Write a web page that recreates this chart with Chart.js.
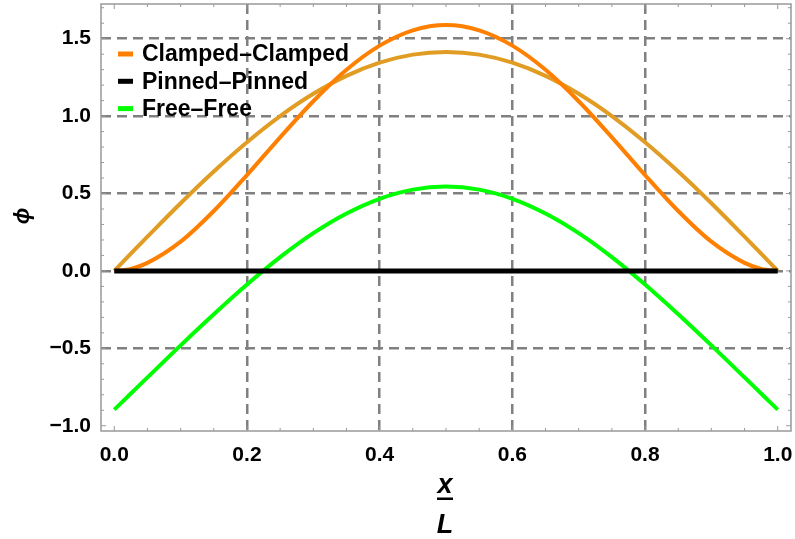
<!DOCTYPE html>
<html>
<head>
<meta charset="utf-8">
<script src="https://cdn.jsdelivr.net/npm/chart.js@4/dist/chart.umd.min.js"></script>
<style>
  html, body { margin: 0; padding: 0; background: #fff; }
  #wrap { width: 795px; height: 539px; }
</style>
</head>
<body>
<div id="wrap"><canvas id="modeChart" width="795" height="539"></canvas></div>
<script>
// x / L positions
const xs = [0, 0.025, 0.05, 0.1, 0.15, 0.2, 0.25, 0.3, 0.35, 0.4, 0.45, 0.5,
            0.55, 0.6, 0.65, 0.7, 0.75, 0.8, 0.85, 0.9, 0.95, 0.975, 1];

// mode shapes phi
const clampedClamped = [0, 0.013, 0.052, 0.189, 0.387, 0.619, 0.863, 1.096, 1.299, 1.455, 1.554, 1.588,
                        1.554, 1.455, 1.299, 1.096, 0.863, 0.619, 0.387, 0.189, 0.052, 0.013, 0];
const pinnedPinned = [0, 0, 0, 0, 0, 0, 0, 0, 0, 0, 0, 0,
                      0, 0, 0, 0, 0, 0, 0, 0, 0, 0, 0];
const freeFree = [-0.896, -0.792, -0.688, -0.481, -0.280, -0.088, 0.089, 0.244, 0.371, 0.466, 0.525, 0.545,
                  0.525, 0.466, 0.371, 0.244, 0.089, -0.088, -0.280, -0.481, -0.688, -0.792, -0.896];
// gold curve (no legend entry)
const sineShape = [0, 0.111, 0.221, 0.437, 0.642, 0.831, 1.000, 1.144, 1.260, 1.345, 1.397, 1.414,
                   1.397, 1.345, 1.260, 1.144, 1.000, 0.831, 0.642, 0.437, 0.221, 0.111, 0];

const xTicks = [0, 0.2, 0.4, 0.6, 0.8, 1.0];
const yTicks = [-1.0, -0.5, 0, 0.5, 1.0, 1.5];
const xGridAt = [0.2, 0.4, 0.6, 0.8];
const yGridAt = [-0.5, 0, 0.5, 1.0, 1.5];

const FONT = '"Liberation Sans", Arial, sans-serif';
const GRID = '#808080';
const FRAME = '#999999';

function pts(ys) {
    return xs.map((x, i) => ({ x: x, y: ys[i] }));
}

function fmt(v) {
    return v.toFixed(1).replace('-', '\u2212');
}

// frame, minor ticks, legend and axis titles
const decorations = {
    id: 'decorations',
    afterDraw(chart) {
        const ctx = chart.ctx;
        const a = chart.chartArea;
        const sx = chart.scales.x, sy = chart.scales.y;
        ctx.save();

        ctx.strokeStyle = FRAME;
        ctx.lineWidth = 1.5;
        ctx.strokeRect(a.left, a.top, a.right - a.left, a.bottom - a.top);

        ctx.lineWidth = 1;
        for (let i = 0; i <= 20; i++) {
            const v = i * 0.05;
            const len = (i % 4 === 0) ? 5 : 3;
            const px = sx.getPixelForValue(v);
            ctx.beginPath();
            ctx.moveTo(px, a.bottom); ctx.lineTo(px, a.bottom - len);
            ctx.moveTo(px, a.top); ctx.lineTo(px, a.top + len);
            ctx.stroke();
        }
        for (let i = -10; i <= 17; i++) {
            const v = i * 0.1;
            const len = (i % 5 === 0) ? 5 : 3;
            const py = sy.getPixelForValue(v);
            ctx.beginPath();
            ctx.moveTo(a.left, py); ctx.lineTo(a.left + len, py);
            ctx.moveTo(a.right, py); ctx.lineTo(a.right - len, py);
            ctx.stroke();
        }

        // legend
        const items = chart.data.datasets.filter(d => d.inLegend);
        ctx.font = 'bold 23px ' + FONT;
        ctx.textBaseline = 'middle';
        ctx.textAlign = 'left';
        items.forEach((d, i) => {
            const y = 54 + i * 27.3;
            ctx.fillStyle = d.borderColor;
            ctx.fillRect(118, y - 2.5, 15, 5);
            ctx.fillStyle = '#000';
            ctx.fillText(d.label, 142, y + 1);
        });

        // y title
        ctx.save();
        ctx.translate(23, 216);
        ctx.rotate(-Math.PI / 2);
        ctx.font = 'italic bold 22px ' + FONT;
        ctx.textAlign = 'center';
        ctx.textBaseline = 'middle';
        ctx.fillText('\u03d5', 0, 0);
        ctx.restore();

        // x title as fraction x / L
        ctx.font = 'italic bold 27px ' + FONT;
        ctx.textAlign = 'center';
        ctx.textBaseline = 'alphabetic';
        ctx.fillStyle = '#000';
        ctx.fillText('x', 445, 493);
        ctx.fillRect(437, 497.5, 16, 2.5);
        ctx.fillText('L', 445, 533);

        ctx.restore();
    }
};

new Chart(document.getElementById('modeChart'), {
    type: 'line',
    data: {
        datasets: [
            {
                label: 'Clamped\u2013Clamped',
                data: pts(clampedClamped),
                borderColor: '#ff8000',
                borderWidth: 4,
                inLegend: true,
                order: 2
            },
            {
                label: 'Pinned\u2013Pinned',
                data: pts(pinnedPinned),
                borderColor: '#000000',
                borderWidth: 5,
                inLegend: true,
                order: 0
            },
            {
                label: 'Free\u2013Free',
                data: pts(freeFree),
                borderColor: '#00ff00',
                borderWidth: 4,
                inLegend: true,
                order: 1
            },
            {
                label: 'sine',
                data: pts(sineShape),
                borderColor: '#e19c24',
                borderWidth: 4,
                inLegend: false,
                order: 3
            }
        ]
    },
    options: {
        responsive: false,
        animation: false,
        devicePixelRatio: 1,
        layout: { padding: { top: 4, right: 4, left: 0, bottom: 0 } },
        elements: {
            point: { radius: 0 },
            line: { cubicInterpolationMode: 'monotone', borderCapStyle: 'butt', fill: false }
        },
        scales: {
            x: {
                type: 'linear',
                min: -0.02,
                max: 1.02,
                afterBuildTicks: s => { s.ticks = xTicks.map(v => ({ value: v })); },
                afterFit: s => { s.height = 108; s.paddingLeft = 0; s.paddingRight = 0; },
                grid: {
                    color: c => xGridAt.includes(c.tick.value) ? GRID : 'rgba(0,0,0,0)',
                    lineWidth: 2.5,
                    drawTicks: false
                },
                border: { display: false, dash: [10, 6] },
                ticks: {
                    padding: 12,
                    color: '#000',
                    maxRotation: 0,
                    font: { family: FONT, size: 21, weight: 'bold' },
                    callback: v => fmt(v)
                }
            },
            y: {
                type: 'linear',
                min: -1.034,
                max: 1.724,
                afterBuildTicks: s => { s.ticks = yTicks.map(v => ({ value: v })); },
                afterFit: s => { s.width = 101; s.paddingTop = 0; s.paddingBottom = 0; },
                grid: {
                    color: c => yGridAt.includes(c.tick.value) ? GRID : 'rgba(0,0,0,0)',
                    lineWidth: 2.5,
                    drawTicks: false
                },
                border: { display: false, dash: [10, 6] },
                ticks: {
                    padding: 10,
                    color: '#000',
                    font: { family: FONT, size: 21, weight: 'bold' },
                    callback: v => fmt(v)
                }
            }
        },
        plugins: {
            legend: { display: false },
            tooltip: { enabled: false }
        }
    },
    plugins: [decorations]
});
</script>
</body>
</html>
